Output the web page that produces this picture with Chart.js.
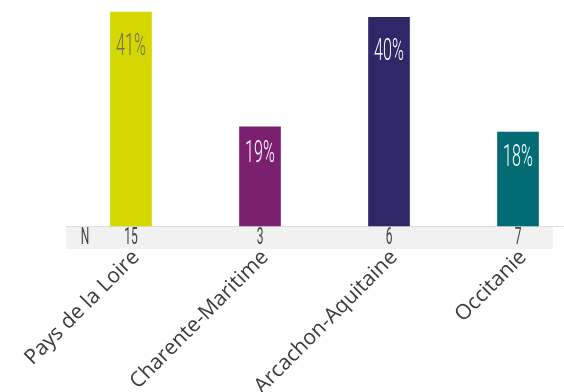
<!DOCTYPE html>
<html>
<head>
<meta charset="utf-8">
<script src="https://cdn.jsdelivr.net/npm/chart.js@4/dist/chart.umd.min.js"></script>
<style>
  html, body { margin: 0; padding: 0; background: #fff; }
  #wrap { width: 564px; height: 392px; }
</style>
</head>
<body>
<div id="wrap"><canvas id="chart"></canvas></div>
<script>
const regions = ['Pays de la Loire', 'Charente-Maritime', 'Arcachon-Aquitaine', 'Occitanie'];
const shares = [41, 19, 40, 18];
const counts = [15, 3, 6, 7];
const barColors = ['#d5d800', '#7b2070', '#2e2768', '#036b74'];
const labelColors = ['#6b6b6b', '#ffffff', '#ffffff', '#ffffff'];

// squeezed text, close to the narrow display face of the original
function narrowText(ctx, text, x, y, size, color, squeeze, weight) {
  ctx.save();
  ctx.translate(x, y);
  ctx.scale(squeeze, 1);
  ctx.font = weight + ' ' + size + 'px Roboto';
  ctx.fillStyle = color;
  ctx.textAlign = 'center';
  ctx.textBaseline = 'middle';
  ctx.fillText(text, 0, 0);
  ctx.restore();
}

const bandPlugin = {
  id: 'band',
  beforeDatasetsDraw(chart) {
    const { ctx, chartArea } = chart;
    const x = chart.scales.x;
    const top = chartArea.bottom;
    ctx.save();
    ctx.fillStyle = '#f1f1f1';
    ctx.fillRect(chartArea.left - 65, top, chartArea.right - chartArea.left + 100, 23);
    ctx.fillStyle = '#dedede';
    ctx.fillRect(chartArea.left - 65, top, chart.width, 1);
    ctx.restore();
    narrowText(ctx, 'N', chartArea.left - 46, top + 12, 24, '#444444', 0.5, 400);
    counts.forEach((n, i) => {
      narrowText(ctx, String(n), x.getPixelForValue(i), top + 12, 24, '#444444', 0.5, 400);
    });
  },
  afterDatasetsDraw(chart) {
    const { ctx, chartArea } = chart;
    const x = chart.scales.x;
    const meta = chart.getDatasetMeta(0);
    meta.data.forEach((bar, i) => {
      const h = bar.base - bar.y;
      narrowText(ctx, shares[i] + '%', bar.x, bar.y + 20 + 0.07 * h, 31, labelColors[i], 0.52, 300);
    });
    // category names, rotated 45 degrees below the N band
    regions.forEach((name, i) => {
      ctx.save();
      ctx.translate(x.getPixelForValue(i) + 5, chartArea.bottom + 28);
      ctx.rotate(-Math.PI / 4);
      ctx.font = '21px "Open Sans"';
      ctx.fillStyle = '#3a3a3a';
      ctx.textAlign = 'right';
      ctx.textBaseline = 'middle';
      ctx.fillText(name, 0, 0);
      ctx.restore();
    });
  }
};

new Chart(document.getElementById('chart'), {
  type: 'bar',
  data: {
    labels: regions,
    datasets: [{
      data: shares,
      backgroundColor: barColors,
      barThickness: 41,
      clip: false
    }]
  },
  options: {
    responsive: true,
    maintainAspectRatio: false,
    animation: false,
    layout: { padding: { top: 12, left: 131, right: 46, bottom: 166 } },
    plugins: { legend: { display: false }, tooltip: { enabled: false } },
    scales: {
      x: { display: false, offset: false },
      y: { display: false, min: 0, max: 41 }
    }
  },
  plugins: [bandPlugin]
});
</script>
</body>
</html>
